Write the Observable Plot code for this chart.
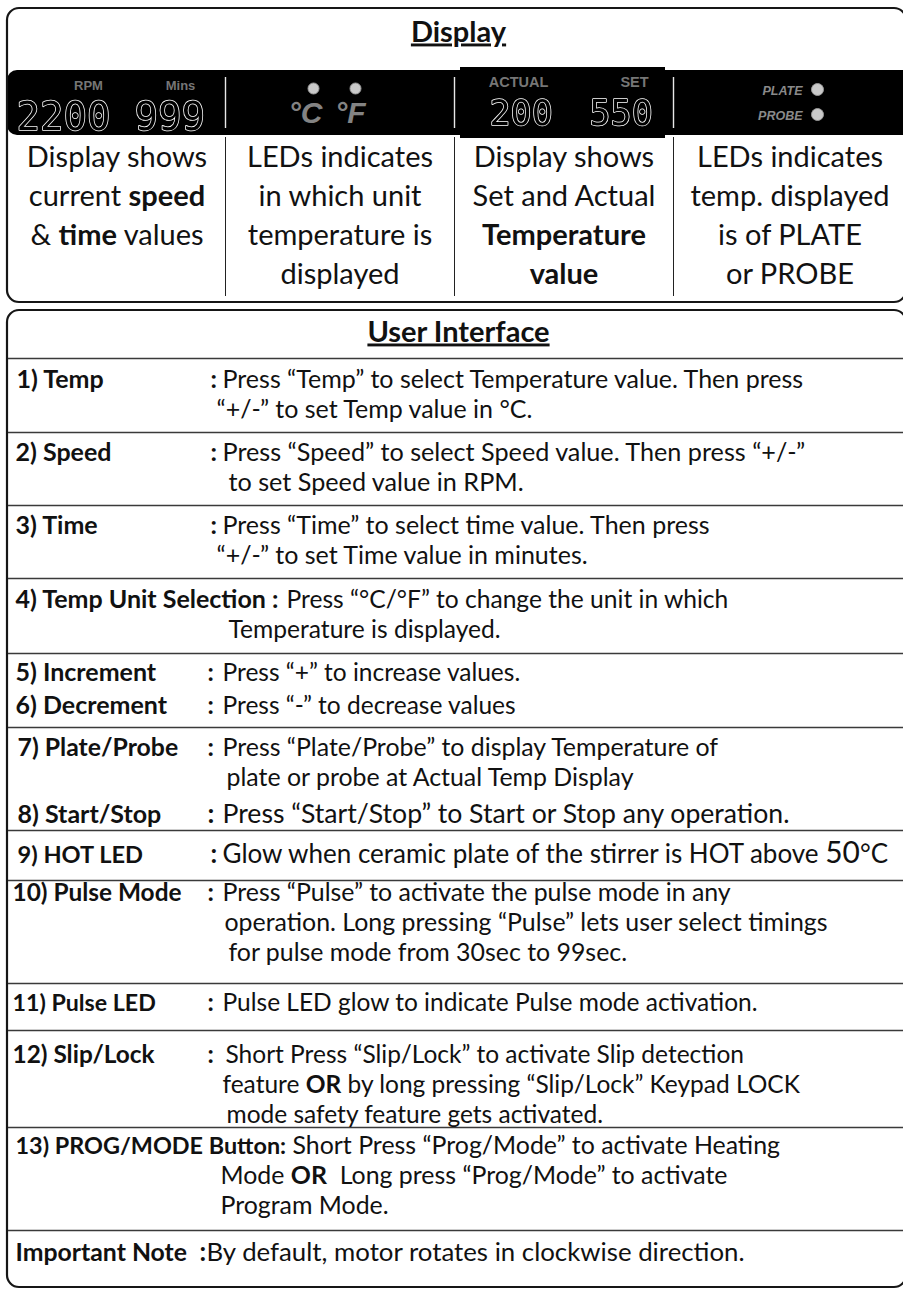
<!DOCTYPE html>
<html><head><meta charset="utf-8">
<script src="https://cdn.jsdelivr.net/npm/d3@7"></script>
<script src="https://cdn.jsdelivr.net/npm/@observablehq/plot@0.6"></script>
<style>
html,body{margin:0;padding:0;background:#fff;}
#chart svg{display:block;}
.lcd{filter:grayscale(1);}
</style>
</head><body><div id="chart"></div>
<script>
// ---------------- content ----------------
const displayTitle = "Display";
const interfaceTitle = "User Interface";
const readings = ["2200", "999", "200", "550"];
const readingUnits = ["RPM", "Mins", "ACTUAL", "SET"];
const tempUnits = ["°C", "°F"];
const sourceLeds = ["PLATE", "PROBE"];
const displayNotes = [
  ["Display shows", "current **speed**", "& **time** values"],
  ["LEDs indicates", "in which unit", "temperature is", "displayed"],
  ["Display shows", "Set and Actual", "**Temperature**", "**value**"],
  ["LEDs indicates", "temp. displayed", "is of PLATE", "or PROBE"]
];
const controlLabels = ["1) Temp", "2) Speed", "3) Time", "4) Temp Unit Selection :", "5) Increment", "6) Decrement",
  "7) Plate/Probe", "8) Start/Stop", "9) HOT LED", "10) Pulse Mode", "11) Pulse LED", "12) Slip/Lock",
  "13) PROG/MODE Button:", "Important Note"];
const controlText = [
  ["Press “Temp” to select Temperature value. Then press", "“+/-” to set Temp value in °C."],
  ["Press “Speed” to select Speed value. Then press “+/-”", "to set Speed value in RPM."],
  ["Press “Time” to select time value. Then press", "“+/-” to set Time value in minutes."],
  ["Press “°C/°F” to change the unit in which", "Temperature is displayed."],
  ["Press “+” to increase values."],
  ["Press “-” to decrease values"],
  ["Press “Plate/Probe” to display Temperature of", "plate or probe at Actual Temp Display"],
  ["Press “Start/Stop” to Start or Stop any operation."],
  ["Glow when ceramic plate of the stirrer is HOT above ^^50^^°C"],
  ["Press “Pulse” to activate the pulse mode in any", "operation. Long pressing “Pulse” lets user select timings", "for pulse mode from 30sec to 99sec."],
  ["Pulse LED glow to indicate Pulse mode activation."],
  ["Short Press “Slip/Lock” to activate Slip detection", "feature **OR** by long pressing “Slip/Lock” Keypad LOCK", "mode safety feature gets activated."],
  ["Short Press “Prog/Mode” to activate Heating", "Mode **OR**  Long press “Prog/Mode” to activate", "Program Mode."],
  ["By default, motor rotates in clockwise direction."]
];

// ---------------- layout ----------------
const W = 903, H = 1290;
const FONT = "Lato, 'Open Sans', sans-serif";
const box1 = {x1: 7, y1: 8, x2: 906, y2: 302};
const box2 = {x1: 7, y1: 310, x2: 906, y2: 1287};
const strip = {x1: 7, y1: 70, x2: 930, y2: 135};
const panel3 = {x1: 460, y1: 67, x2: 665, y2: 138};
const colEdges = [8, 225, 454, 673, 906];
const rowLines = [358, 432, 505, 578, 653, 727, 830, 880, 983, 1030, 1127, 1230];
const rowBaseline = [387, 460, 533, 607, 680, 713, 755, 822, 862, 900, 1010, 1062, 1153, 1260];
const labelX = [16, 15, 15, 15, 15, 15, 17, 17, 17, 12, 12, 12, 15, 15];
const labelSize = [25, 25, 25, 25, 25, 25, 24.8, 25, 23.6, 24.4, 23.2, 24.4, 23.4, 24.8];
const colonX = [210, 210, 210, null, 207, 207, 207, 207, 210, 207, 207, 207, null, 199];
const textX = [[222, 216], [222, 228], [222, 216], [286, 228], [222], [222], [222, 226], [222], [222],
  [222, 224, 228], [222], [225, 222, 226], [292, 220, 220], [206]];
const textSize = [25, 25.2, 25, 24.6, 24.5, 24.5, 24.9, 26.6, 26, 24.9, 24.5, 24.5, 24.9, 25.8];
const lineGap = 30;
const readingPos = [{x: 16, y: 129, s: 39, ls: 0}, {x: 134, y: 129, s: 39, ls: -3.4},
  {x: 489, y: 124, s: 35, ls: -1.2}, {x: 589, y: 124, s: 35, ls: -0.8}];
const unitPos = [{x: 88, y: 89, s: 13}, {x: 180, y: 89, s: 13}, {x: 518, y: 86, s: 14.5}, {x: 634, y: 86, s: 14.5}];
const tempUnitPos = [{x: 305, y: 122}, {x: 350, y: 122}];
const tempLedPos = [{x: 313, y: 88}, {x: 355, y: 88}];
const sourcePos = [{x: 802, y: 94, lx: 817, ly: 89}, {x: 802, y: 119, lx: 817, ly: 114}];

// ---------------- derived tables ----------------
const noteRows = displayNotes.flatMap((lines, c) => lines.map((t, j) => ({
  t, x: (colEdges[c] + colEdges[c + 1]) / 2, y: 166 + j * 39
})));
const readingRows = readings.map((t, i) => ({t, ...readingPos[i]}));
const unitRows = readingUnits.map((t, i) => ({t, ...unitPos[i]}));
const tempRows = tempUnits.map((t, i) => ({t, ...tempUnitPos[i], lx: tempLedPos[i].x, ly: tempLedPos[i].y}));
const sourceRows = sourceLeds.map((t, i) => ({t, ...sourcePos[i]}));
const labelRows = controlLabels.map((t, i) => ({t, x: labelX[i], y: rowBaseline[i], s: labelSize[i]}));
const colonRows = controlLabels.map((t, i) => ({x: colonX[i], y: rowBaseline[i], s: textSize[i]})).filter(d => d.x != null);
const textRows = controlText.flatMap((lines, i) => lines.map((t, j) => ({t, x: textX[i][j], y: rowBaseline[i] + j * lineGap, s: textSize[i]})));

const chart = Plot.plot({
  width: W, height: H,
  margin: 0,
  x: {domain: [0, W], range: [0, W], axis: null},
  y: {domain: [0, H], range: [0, H], axis: null},
  style: {fontFamily: FONT, background: "white"},
  marks: [
    // black display strip
    Plot.rect([strip], {x1: "x1", y1: "y1", x2: "x2", y2: "y2", fill: "black", rx: 10}),
    Plot.rect([panel3], {x1: "x1", y1: "y1", x2: "x2", y2: "y2", fill: "black"}),
    Plot.ruleX(colEdges.slice(1, 4), {y1: 77, y2: 128, stroke: "#e8e8e8", strokeWidth: 1.4}),
    Plot.ruleX(colEdges.slice(1, 4), {y1: 137, y2: 296, stroke: "#222", strokeWidth: 1}),
    // boxes
    Plot.rect([box1, box2], {x1: "x1", y1: "y1", x2: "x2", y2: "y2", fill: "none", stroke: "#161616", strokeWidth: 2.2, rx: 12}),
    Plot.ruleY(rowLines, {x1: 8, x2: 906, stroke: "#3a3a3a", strokeWidth: 1.6}),
    // titles
    Plot.text([{t: displayTitle, y: 41}, {t: interfaceTitle, y: 341}], {x: 458, y: "y", text: "t", fontWeight: "bold",
      fontSize: 29, lineAnchor: "bottom", fill: "#111", className: "ttl"}),
    // seven-segment style readings
    ...readingRows.map(d => Plot.text([d], {x: "x", y: "y", text: "t", fontSize: d.s, textAnchor: "start", lineAnchor: "bottom",
      fontFamily: "'DejaVu Sans Mono', monospace", fill: "black", stroke: "#ffffff", strokeWidth: 1.5,
      letterSpacing: d.ls, className: "lcd"})),
    Plot.text(unitRows, {x: "x", y: "y", text: "t", fontSize: "s", lineAnchor: "bottom", fontWeight: "bold",
      fontFamily: "'Liberation Sans', Arial, sans-serif", fill: "#767676"}),
    Plot.dot(tempRows, {x: "lx", y: "ly", r: 5.5, fill: "#c9c9c9", stroke: "#9a9a9a", strokeWidth: 1}),
    Plot.text(tempRows, {x: "x", y: "y", text: "t", fontSize: 30, lineAnchor: "bottom", fontWeight: "bold",
      fontStyle: "italic", fontFamily: "'Liberation Sans', Arial, sans-serif", fill: "#838383"}),
    Plot.dot(sourceRows, {x: "lx", y: "ly", r: 6, fill: "#c9c9c9", stroke: "#9a9a9a", strokeWidth: 1}),
    Plot.text(sourceRows, {x: "x", y: "y", text: "t", fontSize: 12.5, lineAnchor: "bottom", textAnchor: "end",
      fontWeight: "bold", fontStyle: "italic", fontFamily: "'Liberation Sans', Arial, sans-serif", fill: "#8a8a8a"}),
    // display notes
    Plot.text(noteRows, {x: "x", y: "y", text: "t", fontSize: 29, lineAnchor: "bottom", fill: "#111"}),
    // user interface rows
    Plot.text(labelRows, {x: "x", y: "y", text: "t", fontSize: "s", fontWeight: "bold", textAnchor: "start", lineAnchor: "bottom", fill: "#111"}),
    Plot.text(colonRows, {x: "x", y: "y", text: () => ":", fontSize: "s", fontWeight: "bold", textAnchor: "start", lineAnchor: "bottom", fill: "#111"}),
    Plot.text(textRows, {x: "x", y: "y", text: "t", fontSize: "s", textAnchor: "start", lineAnchor: "bottom", fill: "#111"})
  ]
});

// inline emphasis: **bold**, ^^larger^^
function enrich(textEl) {
  const s = textEl.textContent;
  if (!/\*\*|\^\^/.test(s)) return;
  while (textEl.firstChild) textEl.removeChild(textEl.firstChild);
  const parts = s.split(/(\*\*[^*]+\*\*|\^\^[^^]+\^\^)/).filter(p => p.length);
  for (const p of parts) {
    const ts = document.createElementNS("http://www.w3.org/2000/svg", "tspan");
    if (p.startsWith("**")) { ts.textContent = p.slice(2, -2); ts.setAttribute("font-weight", "bold"); }
    else if (p.startsWith("^^")) { ts.textContent = p.slice(2, -2); ts.setAttribute("font-size", "1.15em"); }
    else ts.textContent = p;
    textEl.appendChild(ts);
  }
}
chart.querySelectorAll("text").forEach(enrich);
chart.querySelectorAll(".ttl text").forEach(t => t.style.textDecoration = "underline");
document.getElementById("chart").appendChild(chart);
</script>
</body></html>
